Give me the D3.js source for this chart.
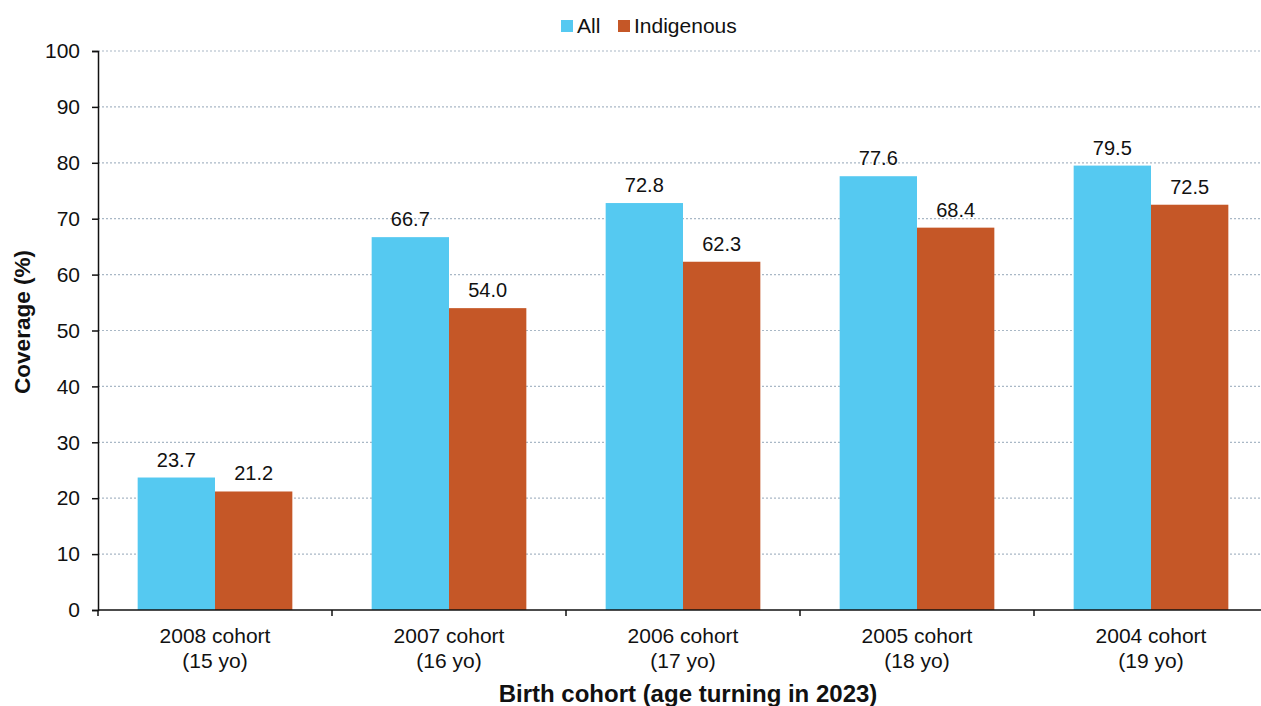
<!DOCTYPE html>
<html>
<head>
<meta charset="utf-8">
<script src="https://cdn.jsdelivr.net/npm/d3@7"></script>
<style>
  html, body { margin: 0; padding: 0; background: #fff; }
  svg { display: block; font-family: "Liberation Sans", Arial, sans-serif; }
</style>
</head>
<body>
<svg id="chart" width="1261" height="706"></svg>
<script>
// Birth cohorts (two-line labels) and coverage series
const cohorts = ["2008 cohort", "2007 cohort", "2006 cohort", "2005 cohort", "2004 cohort"];
const ages = ["(15 yo)", "(16 yo)", "(17 yo)", "(18 yo)", "(19 yo)"];
const seriesNames = ["All", "Indigenous"];
const allValues = [23.7, 66.7, 72.8, 77.6, 79.5];
const indigenousValues = [21.2, 54.0, 62.3, 68.4, 72.5];
const yTicks = [0, 10, 20, 30, 40, 50, 60, 70, 80, 90, 100];
const colors = ["#55C9F1", "#C55727"];

const svg = d3.select("#chart");
const margin = { left: 98, right: -7, top: 51, bottom: 96 };
const width = 1261, height = 706;

const x = d3.scaleBand()
  .domain(cohorts)
  .range([margin.left, width - margin.right])
  .paddingInner(0).paddingOuter(0);

// Bar pair sits in the middle two thirds of each cohort band
const inner = d3.scaleBand()
  .domain(seriesNames)
  .range([0, x.bandwidth()])
  .paddingOuter(40 / 78)
  .paddingInner(0);

const y = d3.scaleLinear()
  .domain([0, 100])
  .range([height - margin.bottom, margin.top]);

// Dotted gridlines
svg.append("g")
  .selectAll("line")
  .data(yTicks.filter(d => d > 0))
  .join("line")
  .attr("x1", margin.left)
  .attr("x2", width)
  .attr("y1", d => y(d))
  .attr("y2", d => y(d))
  .attr("stroke", "#a9b8c6")
  .attr("stroke-width", 1.2)
  .attr("stroke-dasharray", "2,2");

// Bars
const series = [allValues, indigenousValues];
const groups = svg.append("g")
  .selectAll("g")
  .data(cohorts)
  .join("g")
  .attr("transform", d => `translate(${x(d)},0)`);

groups.selectAll("rect")
  .data((d, i) => seriesNames.map((s, k) => ({ s, k, v: series[k][i] })))
  .join("rect")
  .attr("x", d => inner(d.s))
  .attr("width", inner.bandwidth())
  .attr("y", d => y(d.v))
  .attr("height", d => y(0) - y(d.v))
  .attr("fill", d => colors[d.k]);

// Value labels
groups.selectAll("text.val")
  .data((d, i) => seriesNames.map((s, k) => ({ s, k, v: series[k][i] })))
  .join("text")
  .attr("class", "val")
  .attr("x", d => inner(d.s) + inner.bandwidth() / 2)
  .attr("y", d => y(d.v) - 11)
  .attr("text-anchor", "middle")
  .attr("font-size", 20)
  .attr("fill", "#111")
  .text(d => d.v.toFixed(1));

// Y axis
const yAxis = svg.append("g")
  .attr("transform", `translate(${margin.left},0)`)
  .call(d3.axisLeft(y).tickValues(yTicks).tickSize(6).tickPadding(12));
yAxis.select(".domain").attr("stroke", "#111").attr("stroke-width", 1.5);
yAxis.selectAll(".tick line").attr("stroke", "#111").attr("stroke-width", 1.5);
yAxis.selectAll("text").attr("font-size", 21).attr("fill", "#111")
  .attr("font-family", "Liberation Sans, Arial, sans-serif");

// X axis: baseline with ticks at category boundaries
const xg = svg.append("g");
xg.append("line")
  .attr("x1", margin.left).attr("x2", width)
  .attr("y1", y(0)).attr("y2", y(0))
  .attr("stroke", "#111").attr("stroke-width", 1.5);
xg.selectAll("line.tk")
  .data(cohorts.map(c => x(c)))
  .join("line")
  .attr("class", "tk")
  .attr("x1", d => d).attr("x2", d => d)
  .attr("y1", y(0)).attr("y2", y(0) + 6)
  .attr("stroke", "#111").attr("stroke-width", 1.5);

const xl = xg.selectAll("text.cat")
  .data(cohorts)
  .join("text")
  .attr("class", "cat")
  .attr("text-anchor", "middle")
  .attr("font-size", 21)
  .attr("fill", "#111");
xl.append("tspan")
  .attr("x", d => x(d) + x.bandwidth() / 2)
  .attr("y", y(0) + 33)
  .text(d => d);
xl.append("tspan")
  .attr("x", d => x(d) + x.bandwidth() / 2)
  .attr("y", y(0) + 58)
  .text((d, i) => ages[i]);

// Axis titles
svg.append("text")
  .attr("x", 688).attr("y", 702)
  .attr("text-anchor", "middle")
  .attr("font-size", 24).attr("font-weight", "bold").attr("fill", "#111")
  .text("Birth cohort (age turning in 2023)");

svg.append("text")
  .attr("transform", "translate(30,322) rotate(-90)")
  .attr("text-anchor", "middle")
  .attr("font-size", 22.5).attr("font-weight", "bold").attr("fill", "#111")
  .text("Coverage (%)");

// Legend
const legend = svg.append("g");
const legendItems = [{ name: "All", x: 561 }, { name: "Indigenous", x: 618 }];
legendItems.forEach((it, k) => {
  legend.append("rect")
    .attr("x", it.x).attr("y", 20)
    .attr("width", 12).attr("height", 12)
    .attr("fill", colors[k]);
  legend.append("text")
    .attr("x", it.x + 16).attr("y", 33)
    .attr("font-size", 21).attr("fill", "#111")
    .text(it.name);
});
</script>
</body>
</html>
